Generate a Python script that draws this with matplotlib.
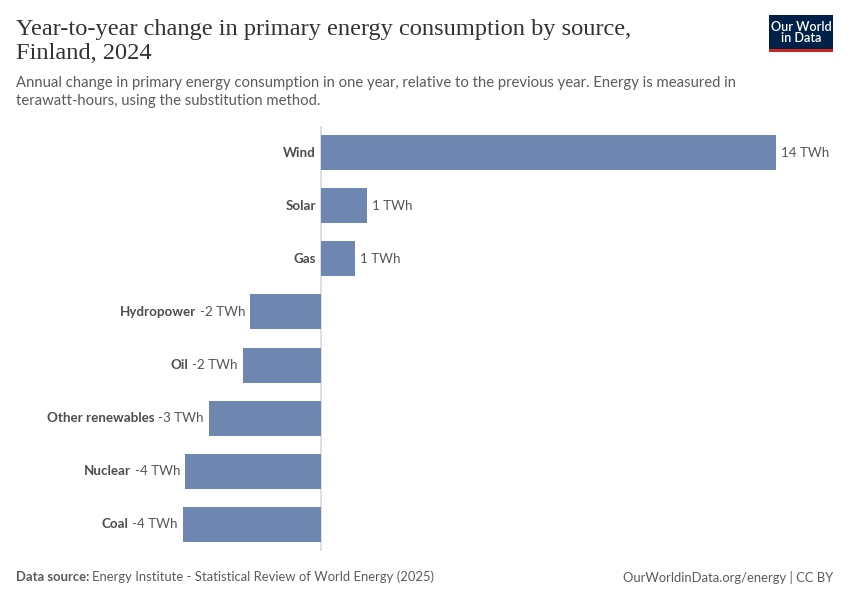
import matplotlib
matplotlib.use("Agg")
import matplotlib.pyplot as plt
from matplotlib.patches import Rectangle
from matplotlib.transforms import offset_copy

categories = ["Wind", "Solar", "Gas", "Hydropower", "Oil", "Other renewables", "Nuclear", "Coal"]
values = [14.0, 1.42, 1.05, -2.18, -2.4, -3.45, -4.18, -4.25]
value_labels = ["14 TWh", "1 TWh", "1 TWh", "-2 TWh", "-2 TWh", "-3 TWh", "-4 TWh", "-4 TWh"]

title = "Year-to-year change in primary energy consumption by source,\nFinland, 2024"
subtitle = ("Annual change in primary energy consumption in one year, relative to the previous year. Energy is measured in\n"
            "terawatt-hours, using the substitution method.")

BAR = "#6d87b0"
W, H = 850, 600
fig = plt.figure(figsize=(W/100, H/100), dpi=100)
fig.patch.set_facecolor("white")

px_per = 32.5
zero_px = 321
left_px, right_px = 150, 790
ax = fig.add_axes([left_px/W, 1-551/H, (right_px-left_px)/W, 425/H])
ax.set_xlim((left_px-zero_px)/px_per, (right_px-zero_px)/px_per)
ax.set_ylim(len(categories)-0.5, -0.5)
ax.axis("off")

y = list(range(len(categories)))
ax.barh(y, values, height=0.66, color=BAR, edgecolor="none", zorder=2)
ax.axvline(0, color="#d9d9d9", lw=1.2, zorder=1)

fig.canvas.draw()
renderer = fig.canvas.get_renderer()
name_kw = dict(fontfamily="Lato", fontweight="bold", fontsize=9.6, color="#4d4d4d", va="center")
val_kw = dict(fontfamily="Lato", fontsize=9.6, color="#555555", va="center")
for i, (c, v, lab) in enumerate(zip(categories, values, value_labels)):
    if v >= 0:
        ax.text(v, i, lab, ha="left",
                transform=offset_copy(ax.transData, fig=fig, x=5, y=0, units="dots"), **val_kw)
        ax.text(0, i, c, ha="right",
                transform=offset_copy(ax.transData, fig=fig, x=-5, y=0, units="dots"), **name_kw)
    else:
        t = ax.text(v, i, lab, ha="right",
                    transform=offset_copy(ax.transData, fig=fig, x=-5, y=0, units="dots"), **val_kw)
        bb = t.get_window_extent(renderer)
        ax.text(v, i, c, ha="right",
                transform=offset_copy(ax.transData, fig=fig, x=-5-bb.width-4, y=0, units="dots"), **name_kw)

fig.text(16/W, 1-19/H, title, ha="left", va="top", fontfamily="Liberation Serif",
         fontsize=17.6, color="#333333", linespacing=1.2)
fig.text(16/W, 1-76/H, subtitle, ha="left", va="top", fontfamily="Lato",
         fontsize=10.7, color="#5b5b5b", linespacing=1.32)

fig.text(16/W, 1-577/H, "Data source:", ha="left", va="center", fontfamily="Lato",
         fontweight="bold", fontsize=9.4, color="#5b5b5b")
fig.text(92/W, 1-577/H, "Energy Institute - Statistical Review of World Energy (2025)", ha="left",
         va="center", fontfamily="Lato", fontsize=9.4, color="#5b5b5b")
fig.text(833/W, 1-577/H, "OurWorldinData.org/energy | CC BY", ha="right", va="center",
         fontfamily="Lato", fontsize=9.4, color="#5b5b5b")

# logo
lx0, ly0, lw, lh = 769, 15, 64, 37
fig.patches.append(Rectangle((lx0/W, 1-(ly0+lh)/H), lw/W, lh/H, transform=fig.transFigure,
                             facecolor="#002147", edgecolor="none"))
fig.patches.append(Rectangle((lx0/W, 1-(ly0+lh)/H), lw/W, 3/H, transform=fig.transFigure,
                             facecolor="#ce261e", edgecolor="none"))
fig.text((lx0+lw/2)/W, 1-(ly0+17.5)/H, "Our World\nin Data", ha="center", va="center",
         fontfamily="Lato", fontweight="semibold", fontsize=9.2, color="white", linespacing=0.95)

fig.savefig("out.png", dpi=100)
